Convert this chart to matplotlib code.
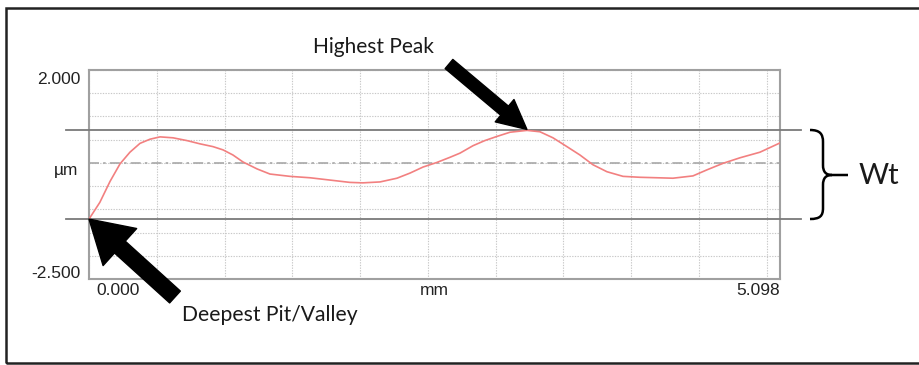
import numpy as np
import matplotlib
matplotlib.use("Agg")
import matplotlib.pyplot as plt
from matplotlib.patches import Rectangle, PathPatch
from matplotlib.path import Path

# profile (mm, µm)
dist_mm = [0.0, 0.08, 0.155, 0.229, 0.302, 0.376, 0.45, 0.524, 0.62, 0.723,
           0.819, 0.915, 0.989, 1.062, 1.136, 1.24, 1.335, 1.483, 1.63, 1.778,
           1.925, 2.02, 2.147, 2.272, 2.368, 2.464, 2.567, 2.663, 2.737, 2.833,
           2.92, 3.01, 3.106, 3.231, 3.327, 3.423, 3.526, 3.622, 3.718, 3.821,
           3.94, 4.065, 4.19, 4.308, 4.456, 4.559, 4.677, 4.803, 4.95, 5.098]
height_um = [-1.21, -0.85, -0.40, -0.02, 0.23, 0.42, 0.51, 0.56, 0.54, 0.48,
             0.41, 0.35, 0.28, 0.17, 0.02, -0.13, -0.24, -0.29, -0.32, -0.37,
             -0.42, -0.43, -0.41, -0.33, -0.22, -0.09, 0.01, 0.12, 0.21, 0.37,
             0.48, 0.57, 0.66, 0.70, 0.67, 0.54, 0.35, 0.17, -0.04, -0.19,
             -0.29, -0.31, -0.32, -0.33, -0.28, -0.15, -0.01, 0.11, 0.23, 0.43]

x_max = 5.098
y_min, y_max = -2.5, 2.0
peak_pos, peak_val = 3.231, 0.70
pit_pos, pit_val = 0.0, -1.21

W, H = 920, 365
fig = plt.figure(figsize=(W / 100, H / 100), dpi=100)
ax = fig.add_axes([89 / W, 86 / H, 691 / W, 209 / H])

ax.set_xlim(0, x_max)
ax.set_ylim(y_min, y_max)
ax.set_xticks(np.arange(0, 5.01, 0.5))
ax.set_yticks(np.arange(-2.5, 2.01, 0.5))
ax.tick_params(length=0, labelbottom=False, labelleft=False)
ax.grid(True, color='#c8c8c8', linestyle=(0, (1.2, 1.2)), linewidth=0.8)
for s in ax.spines.values():
    s.set_color('#a0a0a0')
    s.set_linewidth(1.5)

# mean line
ax.axhline(0, color='#a8a8a8', linestyle=(0, (6, 2.5, 1.5, 2.5)), linewidth=1.2)

# Wt bounding lines, running past the plot edges
for v in (peak_val, pit_val):
    ax.axhline(v, xmin=-0.033, xmax=1.030, color='#7a7a7a', linewidth=1.3,
               clip_on=False, zorder=3)

ax.plot(dist_mm, height_um, color='#f28080', linewidth=1.2, zorder=4)

# axis labels
tick_font = dict(family='Liberation Sans', fontsize=12.5, color='#222222')
ax.text(-0.012, 0.955, '2.000', transform=ax.transAxes, ha='right', va='center', **tick_font)
ax.text(-0.015, 0.52, 'µm', transform=ax.transAxes, ha='right', va='center', **tick_font)
ax.text(-0.012, 0.025, '-2.500', transform=ax.transAxes, ha='right', va='center', **tick_font)
ax.text(0.01, -0.055, '0.000', transform=ax.transAxes, ha='left', va='center', **tick_font)
ax.text(0.5, -0.055, 'mm', transform=ax.transAxes, ha='center', va='center', **tick_font)
ax.text(1.0, -0.055, '5.098', transform=ax.transAxes, ha='right', va='center', **tick_font)

# arrows
ax.annotate('', xy=(pit_pos, pit_val), xytext=(175, H - 297), textcoords='figure pixels',
            arrowprops=dict(arrowstyle='simple,head_length=30,head_width=36,tail_width=11.5',
                            mutation_scale=1, color='black', shrinkA=0, shrinkB=0),
            annotation_clip=False, zorder=6)
ax.annotate('', xy=(peak_pos, peak_val + 0.02), xytext=(449, H - 64), textcoords='figure pixels',
            arrowprops=dict(arrowstyle='simple,head_length=21,head_width=21,tail_width=8.6',
                            mutation_scale=1, color='black', shrinkA=0, shrinkB=0),
            annotation_clip=False, zorder=6)

note_font = dict(family='Lato', color='#1a1a1a')
fig.text(313 / W, 1 - 47 / H, 'Highest Peak', ha='left', va='center', fontsize=15, **note_font)
fig.text(182 / W, 1 - 315 / H, 'Deepest Pit/Valley', ha='left', va='center', fontsize=15.2, **note_font)
fig.text(859 / W, 1 - 176 / H, 'Wt', ha='left', va='center', fontsize=21, **note_font)

# brace for Wt
def fp(x, y):
    return (x / W, 1 - y / H)

verts = [fp(810, 130), fp(820, 130), fp(823, 134), fp(823, 142),
         fp(823, 165),
         fp(823, 172), fp(826, 175), fp(832, 175),
         fp(848, 175),
         fp(832, 175),
         fp(826, 175), fp(823, 178), fp(823, 185),
         fp(823, 208),
         fp(823, 216), fp(820, 219), fp(810, 219)]
codes = [Path.MOVETO, Path.CURVE4, Path.CURVE4, Path.CURVE4,
         Path.LINETO,
         Path.CURVE4, Path.CURVE4, Path.CURVE4,
         Path.LINETO,
         Path.MOVETO,
         Path.CURVE4, Path.CURVE4, Path.CURVE4,
         Path.LINETO,
         Path.CURVE4, Path.CURVE4, Path.CURVE4]
fig.add_artist(PathPatch(Path(verts, codes), transform=fig.transFigure,
                         facecolor='none', edgecolor='black', linewidth=1.8))

# outer frame
fig.add_artist(Rectangle((6 / W, 2 / H), 1.2, 1 - 10 / H, transform=fig.transFigure,
                         facecolor='none', edgecolor='#222222', linewidth=1.8))

fig.savefig('out.png', dpi=100)
